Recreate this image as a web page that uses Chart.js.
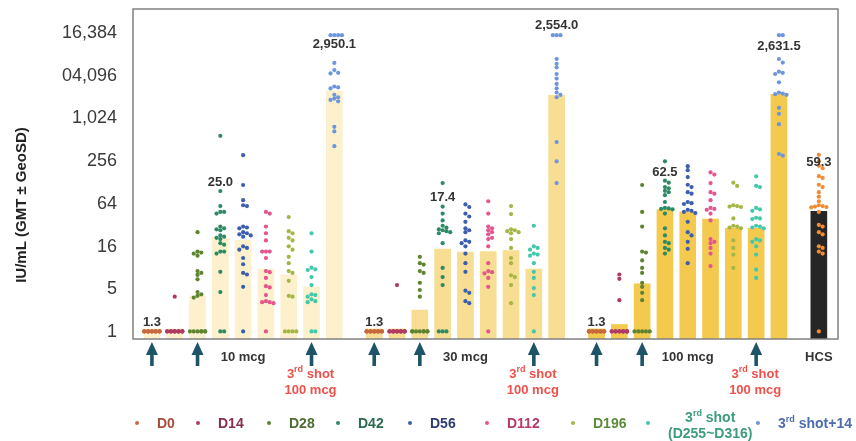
<!DOCTYPE html>
<html>
<head>
<meta charset="utf-8">
<script src="https://cdn.jsdelivr.net/npm/chart.js@4"></script>
<style>
  body { margin: 0; background: #fff; font-family: 'Liberation Sans', Arial, sans-serif; }
  #wrap { position: relative; width: 856px; height: 441px; }
  #legend .dot { position: absolute; width: 4px; height: 4px; border-radius: 50%; }
  #legend .txt { position: absolute; font-weight: bold; font-size: 14px; line-height: 16px; text-align: center; transform: translateY(-50%); white-space: nowrap; }
  #legend sup { font-size: 9px; line-height: 0; }
</style>
</head>
<body>
<div id="wrap">
  <canvas id="chart" width="856" height="441"></canvas>
  <div id="legend"></div>
</div>
<script>
const visits = ['D0', 'D14', 'D28', 'D42', 'D56', 'D112', 'D196', '3rd shot (D255~D316)', '3rd shot+14'];
const groups = ['10 mcg', '30 mcg', '100 mcg'];

// GMT per visit
const gmt10 = [1.3, 1.3, 3.8, 25.0, 23, 9.1, 7.5, 5.1, 2950.1];
const gmt30 = [1.3, 1.3, 2.4, 17.4, 15.7, 16, 16.5, 9.1, 2554.0];
const gmt100 = [1.3, 1.5, 5.6, 62.5, 58, 46, 34, 34, 2631.5];
const gmtHCS = 59.3;

// GMT x GeoSD, only where the GMT is printed
const upper10 = [1.63, null, null, 153, null, null, null, null, 13400];
const upper30 = [1.63, null, null, 94, null, null, null, null, 25100];
const upper100 = [1.63, null, null, 212, null, null, null, null, 12300];
const upperHCS = 285;

// individual titers
const dots10 = [
  [1.2, 1.2, 1.2, 1.2, 1.2, 1.2, 1.2, 1.2, 1.2, 1.2, 1.2, 1.2, 1.2, 1.2, 1.2],
  [3.7, 1.2, 1.2, 1.2, 1.2, 1.2, 1.2, 1.2, 1.2, 1.2, 1.2, 1.2, 1.2, 1.2, 1.2],
  [30, 16, 15.5, 15, 14, 8.5, 8, 7.5, 6.5, 4.3, 4, 3.8, 3.6, 1.2, 1.2, 1.2, 1.2, 1.2, 1.2, 1.2],
  [685, 114, 70, 58, 58, 55, 36, 34, 33, 32, 27, 26, 25, 24, 21, 20, 16, 16, 15, 8.3, 4.3, 1.2, 1.2],
  [366, 139, 85, 72, 70, 36, 35, 34, 30, 29, 28, 27, 26, 19, 18, 17, 13, 10.6, 8, 7.6, 5.1, 1.2],
  [58, 55, 36, 29, 23, 16, 16, 16, 13, 8.5, 8.2, 6.8, 5.2, 5, 3.9, 3.2, 3.1, 3.1, 3, 1.2],
  [49, 31, 29, 25, 23, 19, 17, 13.5, 11, 8.5, 8, 6.2, 3.8, 3.7, 1.2, 1.2, 1.2, 1.2],
  [29, 16, 9.5, 9, 8.8, 7, 5.4, 4, 3.9, 3.7, 3.4, 3.2, 3.1, 1.2, 1.2],
  [18000, 18000, 18000, 18000, 7300, 5800, 5300, 5200, 3400, 3300, 3200, 2600, 2400, 2300, 2200, 2100, 920, 790, 490]
];
const dots30 = [
  [1.2, 1.2, 1.2, 1.2, 1.2, 1.2, 1.2, 1.2, 1.2, 1.2, 1.2, 1.2, 1.2, 1.2, 1.2],
  [5.4, 1.2, 1.2, 1.2, 1.2, 1.2, 1.2, 1.2, 1.2, 1.2, 1.2, 1.2, 1.2, 1.2, 1.2],
  [13.5, 11, 10.5, 8.5, 8, 5.8, 4.6, 3.7, 1.2, 1.2, 1.2, 1.2, 1.2, 1.2, 1.2, 1.2],
  [148, 69, 55, 44, 37, 35, 33, 32, 31, 30, 29, 21, 9.4, 7, 5.4, 1.2, 1.2, 1.2],
  [74, 68, 55, 50, 42, 34, 32, 30, 23, 22, 21, 19, 15, 11, 8.3, 4.5, 4.2, 3.2, 3],
  [82, 55, 36, 34, 32, 30, 28, 25, 24, 19, 11, 8.5, 8.2, 7.9, 6.8, 5.1, 1.2],
  [70, 54, 33, 32, 31, 30, 29, 24, 18, 13, 11, 7.4, 7, 5.4, 3],
  [37, 19, 18, 17, 15, 14.5, 14, 11, 8.3, 6.8, 4.9, 3.9, 1.2],
  [18000, 18000, 18000, 8300, 7100, 6300, 5100, 4400, 3700, 3200, 2800, 2600, 2400, 560, 300, 148]
];
const dots100 = [
  [1.2, 1.2, 1.2, 1.2, 1.2, 1.2, 1.2, 1.2, 1.2, 1.2, 1.2, 1.2, 1.2, 1.2, 1.2],
  [7.6, 6.6, 3.3, 1.2, 1.2, 1.2, 1.2, 1.2, 1.2, 1.2, 1.2, 1.2, 1.2, 1.2, 1.2],
  [139, 58, 36, 16, 15.5, 12, 9.4, 8, 5.8, 5.1, 4.2, 3.3, 1.2, 1.2, 1.2, 1.2, 1.2],
  [300, 160, 150, 130, 125, 115, 110, 100, 80, 66, 65, 64, 63, 55, 34, 27, 22, 21, 18, 17, 15],
  [256, 225, 180, 140, 130, 110, 105, 80, 77, 75, 62, 60, 58, 56, 42, 30, 27, 22, 17.5, 11],
  [210, 195, 148, 110, 105, 85, 66, 64, 62, 55, 44, 24, 22, 21, 18, 15, 10],
  [150, 135, 72, 70, 69, 68, 47, 37, 36, 35, 34, 23, 18, 14.5, 9.4],
  [184, 135, 130, 66, 63, 60, 48, 47, 46, 37, 36, 35, 34, 24, 23, 22, 19, 14.5, 8.9, 6.8],
  [18000, 18000, 8300, 7400, 5500, 5300, 5100, 3900, 2800, 2700, 2650, 2600, 1700, 1400, 1000, 380, 360]
];
const dotsHCS = [370, 300, 260, 240, 185, 175, 140, 130, 110, 95, 82, 72, 70, 69, 68, 67, 58, 38, 36, 30, 28, 19, 18, 16, 15, 1.2];

const yTickValues = [1, 4, 16, 64, 256, 1024, 4096, 16384];
const yTickLabels = ['1', '5', '16', '64', '256', '1,024', '04,096', '16,384'];
const xTickLabels = ['10 mcg', '30 mcg', '100 mcg', 'HCS'];

// styles
const barColors = ['#fcf1cc', '#f7de92', '#f3ca4e'];
const hcsBarColor = '#262626';
const dotColors = ['#c8683e', '#b03a62', '#5f8430', '#2e8a64', '#3c5eae', '#e4568e', '#a6b646', '#44c8ac', '#6e96dc'];
const hcsDotColor = '#f28c34';
const legendText = ['#a64e3a', '#8a2e52', '#4e6c34', '#2c6a50', '#2c3c70', '#b83a6a', '#5c8c3a', '#3c9c7c', '#4c6cb0'];
const legendDotX = [137, 198, 269, 338, 410, 487, 573, 648, 758];
const arrowColor = '#1d5468';
const redText = '#f0504c';

const gmtAll = [gmt10, gmt30, gmt100];
const upperAll = [upper10, upper30, upper100];
const dotsAll = [dots10, dots30, dots100];

// x position: 9 bars per group, 0.75 extra gap between groups
function xPos(g, i) { return g * (visits.length + 0.75) + i; }

// simple beeswarm: spread equal-ish values sideways (pixel estimates)
const PX_LOG4 = 42.7, PX_UNIT = 22.8, STEP = 3.8;
function swarm(values, cx) {
  const placed = [];
  return values.slice().sort((a, b) => b - a).map((v, n) => {
    const py = Math.log(v) / Math.log(4) * PX_LOG4;
    let dx = null;
    for (let k = 0; k < 5; k++) {
      const d = (k % 2 ? 1 : -1) * Math.ceil(k / 2) * STEP;
      if (!placed.some(p => Math.abs(p.py - py) < 3.6 && Math.abs(p.dx - d) < 3.6)) { dx = d; break; }
    }
    if (dx === null) dx = ((n % 5) - 2) * STEP;
    placed.push({ py, dx });
    return { x: cx + dx / PX_UNIT, y: v };
  });
}

const barData = [], barBg = [];
gmtAll.forEach((arr, g) => arr.forEach((v, i) => { barData.push({ x: xPos(g, i), y: v }); barBg.push(barColors[g]); }));
barData.push({ x: xPos(3, 0), y: gmtHCS }); barBg.push(hcsBarColor);

const datasets = [{
  type: 'bar', data: barData, backgroundColor: barBg, barThickness: 16, order: 10
}];
visits.forEach((name, i) => {
  let pts = [];
  dotsAll.forEach((grp, g) => { pts = pts.concat(swarm(grp[i], xPos(g, i))); });
  datasets.push({ type: 'scatter', label: name, data: pts, backgroundColor: dotColors[i], borderWidth: 0, pointRadius: 2.1, order: 1 });
});
datasets.push({ type: 'scatter', label: 'HCS', data: swarm(dotsHCS, xPos(3, 0)), backgroundColor: hcsDotColor, borderWidth: 0, pointRadius: 2.1, order: 1 });

function fmt(v) { return v.toLocaleString('en-US', { minimumFractionDigits: 1, maximumFractionDigits: 1 }); }

// draw "3rd" with superscript centred at x
function drawThird(ctx, x, y, rest, size) {
  const big = 'bold ' + size + 'px "Liberation Sans", Arial';
  const small = 'bold ' + Math.round(size * 0.7) + 'px "Liberation Sans", Arial';
  ctx.font = big; const w1 = ctx.measureText('3').width, w3 = ctx.measureText(rest).width;
  ctx.font = small; const w2 = ctx.measureText('rd').width;
  const sx = x - (w1 + w2 + w3) / 2;
  ctx.textAlign = 'left';
  ctx.font = big; ctx.fillText('3', sx, y);
  ctx.font = small; ctx.fillText('rd', sx + w1, y - size * 0.35);
  ctx.font = big; ctx.fillText(rest, sx + w1 + w2, y);
}

const decor = {
  id: 'decor',
  afterDraw(chart) {
    const { ctx, chartArea: a, scales: { x, y } } = chart;
    ctx.save();
    // frame
    ctx.strokeStyle = '#808080'; ctx.lineWidth = 1.5;
    ctx.strokeRect(a.left, a.top, a.right - a.left, a.bottom - a.top);
    // GMT labels
    ctx.fillStyle = '#333'; ctx.font = 'bold 13px "Liberation Sans", Arial';
    ctx.textAlign = 'center'; ctx.textBaseline = 'middle';
    upperAll.forEach((arr, g) => arr.forEach((u, i) => {
      if (u !== null) ctx.fillText(fmt(gmtAll[g][i]), x.getPixelForValue(xPos(g, i)), y.getPixelForValue(u));
    }));
    ctx.fillText(fmt(gmtHCS), x.getPixelForValue(xPos(3, 0)), y.getPixelForValue(upperHCS));
    // dose arrows and 3rd shot notes
    groups.forEach((name, g) => {
      [0, 2, 7].forEach(i => {
        const px = x.getPixelForValue(xPos(g, i));
        ctx.fillStyle = arrowColor;
        ctx.beginPath(); ctx.moveTo(px - 6, 355); ctx.lineTo(px, 342); ctx.lineTo(px + 6, 355); ctx.closePath(); ctx.fill();
        ctx.fillRect(px - 1.8, 354, 3.6, 12);
      });
      const px = x.getPixelForValue(xPos(g, 7));
      ctx.fillStyle = redText; ctx.textBaseline = 'middle';
      drawThird(ctx, px - 1, 374, ' shot', 13);
      ctx.textAlign = 'center'; ctx.font = 'bold 13px "Liberation Sans", Arial';
      ctx.fillText('100 mcg', px - 1, 390);
    });
    // y title
    ctx.translate(22, 205); ctx.rotate(-Math.PI / 2);
    ctx.fillStyle = '#222'; ctx.font = 'bold 15px "Liberation Sans", Arial';
    ctx.textAlign = 'center'; ctx.textBaseline = 'middle';
    ctx.fillText('IU/mL (GMT \u00b1 GeoSD)', 0, 0);
    ctx.restore();
  }
};

new Chart(document.getElementById('chart'), {
  type: 'bar',
  data: { datasets },
  options: {
    responsive: false, animation: false, devicePixelRatio: 1,
    layout: { padding: { top: 9, right: 18, left: 0, bottom: 0 } },
    plugins: { legend: { display: false }, tooltip: { enabled: false } },
    scales: {
      x: {
        type: 'linear', min: -0.83, max: xPos(3, 0) + 0.84, offset: false, bounds: 'data',
        grid: { display: false, drawTicks: false }, border: { display: false },
        afterBuildTicks: s => { s.ticks = [xPos(0, 4), xPos(1, 4), xPos(2, 4), xPos(3, 0)].map(v => ({ value: v })); },
        afterFit: s => { s.height = 102; s.paddingLeft = 0; s.paddingRight = 0; },
        ticks: {
          autoSkip: false, maxRotation: 0, padding: 11, color: '#333',
          font: { family: '"Liberation Sans", Arial', size: 13, weight: 'bold' },
          callback: (v, i) => xTickLabels[i]
        }
      },
      y: {
        type: 'logarithmic', min: 0.937, max: 42100,
        grid: { display: false, drawTicks: false }, border: { display: false },
        afterBuildTicks: s => { s.ticks = yTickValues.map(v => ({ value: v })); },
        afterFit: s => { s.width = 133; s.paddingTop = 0; s.paddingBottom = 0; },
        ticks: {
          autoSkip: false, padding: 16, labelOffset: -5, color: '#3a3a3a',
          font: { family: '"Liberation Sans", Arial', size: 18 },
          callback: (v, i) => yTickLabels[i]
        }
      }
    }
  },
  plugins: [decor]
});

// legend
const legend = document.getElementById('legend');
const legendHtml = ['D0', 'D14', 'D28', 'D42', 'D56', 'D112', 'D196', '3<sup>rd</sup> shot<br>(D255~D316)', '3<sup>rd</sup> shot+14'];
legendHtml.forEach((html, i) => {
  const d = document.createElement('div');
  d.className = 'dot'; d.style.left = (legendDotX[i] - 2) + 'px'; d.style.top = '421px'; d.style.background = dotColors[i];
  legend.appendChild(d);
  const t = document.createElement('div');
  t.className = 'txt'; t.style.left = (legendDotX[i] + 20) + 'px'; t.style.top = (i === 7 ? 425 : 423) + 'px';
  t.style.color = legendText[i]; t.innerHTML = html;
  legend.appendChild(t);
});
</script>
</body>
</html>
